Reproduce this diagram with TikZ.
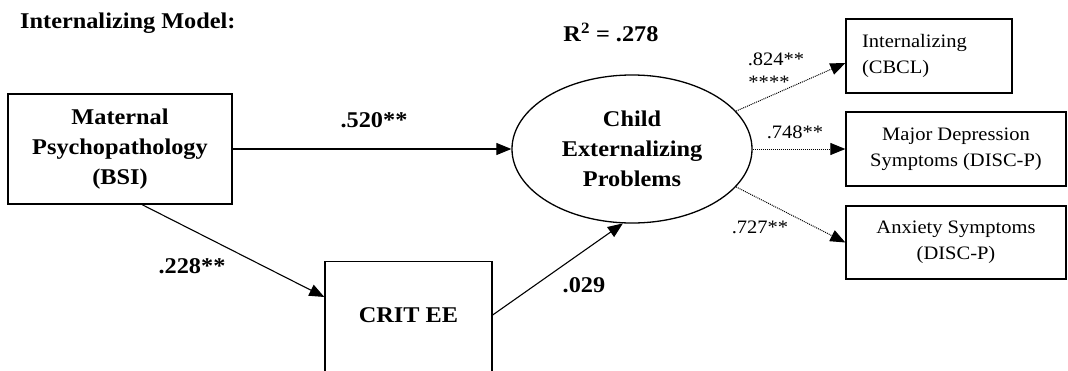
\documentclass[tikz,border=0pt]{standalone}
\usepackage{fontspec}
\setmainfont{Liberation Serif}[FakeStretch=1.08]
\usetikzlibrary{arrows.meta,calc,shapes.geometric}
\begin{document}
\begin{tikzpicture}[x=1pt,y=-1pt,
  box/.style={draw,line width=1.3pt,inner sep=0pt,align=center},
  bigtxt/.style={font=\fontsize{22.5}{30}\selectfont\bfseries},
  smalltxt/.style={font=\fontsize{19}{26}\selectfont},
  solidpath/.style={line width=1.1pt,-{Triangle[length=15pt,width=12pt]}},
  dotpath/.style={line width=1pt,densely dotted,-{Triangle[length=15pt,width=12pt]}},
  lab/.style={inner sep=0pt}]
\useasboundingbox (0,0) rectangle (1068,370);
\node[bigtxt,anchor=base west,inner sep=0pt] (title) at (20,28) {Internalizing Model:};
\node[bigtxt,anchor=base,inner sep=0pt] (rsq) at (611,41) {R\textsuperscript{2} = .278};
\node[box,bigtxt,minimum width=224pt,minimum height=110pt] (mat) at (120,149) {Maternal\\Psychopathology\\(BSI)};
\node[box,bigtxt,anchor=north,minimum width=167pt,text height=61pt,text depth=60pt] (crit) at (408.5,261) {CRIT EE};
\node[draw,line width=1.3pt,ellipse,inner sep=0pt,align=center,bigtxt,minimum width=240pt,minimum height=148pt] (ell) at (632,149) {Child\\Externalizing\\Problems};
\node[box,smalltxt,align=left,minimum width=166pt,minimum height=74pt,text width=134pt] (b1) at (929,56) {Internalizing\\(CBCL)};
\node[box,smalltxt,minimum width=220pt,minimum height=74pt] (b2) at (956,149) {Major Depression\\Symptoms (DISC-P)};
\node[box,smalltxt,minimum width=220pt,minimum height=73pt] (b3) at (956,242.5) {Anxiety Symptoms\\(DISC-P)};
\draw[solidpath] (mat.east) -- (ell.west);
\draw[solidpath] ($(mat.south west)!0.598!(mat.south east)$) -- ($(crit.north west)+(0,36)$);
\draw[solidpath] ($(crit.north east)+(0,54)$) -- (ell.-97);
\draw[dotpath] (ell.20) -- ($(b1.west)+(0,7)$);
\draw[dotpath] (ell.east) -- (b2.west);
\draw[dotpath] (ell.-20) -- (b3.west);
\node[lab,bigtxt] (l520) at (374,120) {.520**};
\node[lab,bigtxt] (l228) at (192,266) {.228**};
\node[lab,bigtxt] (l029) at (584,285) {.029};
\node[lab,smalltxt,anchor=base] (l824) at (776,65) {.824**};
\node[lab,smalltxt,anchor=base] (lstar) at (769,88) {****};
\node[lab,smalltxt,anchor=base] (l748) at (795,138) {.748**};
\node[lab,smalltxt,anchor=base] (l727) at (760,233) {.727**};
\end{tikzpicture}
\end{document}
